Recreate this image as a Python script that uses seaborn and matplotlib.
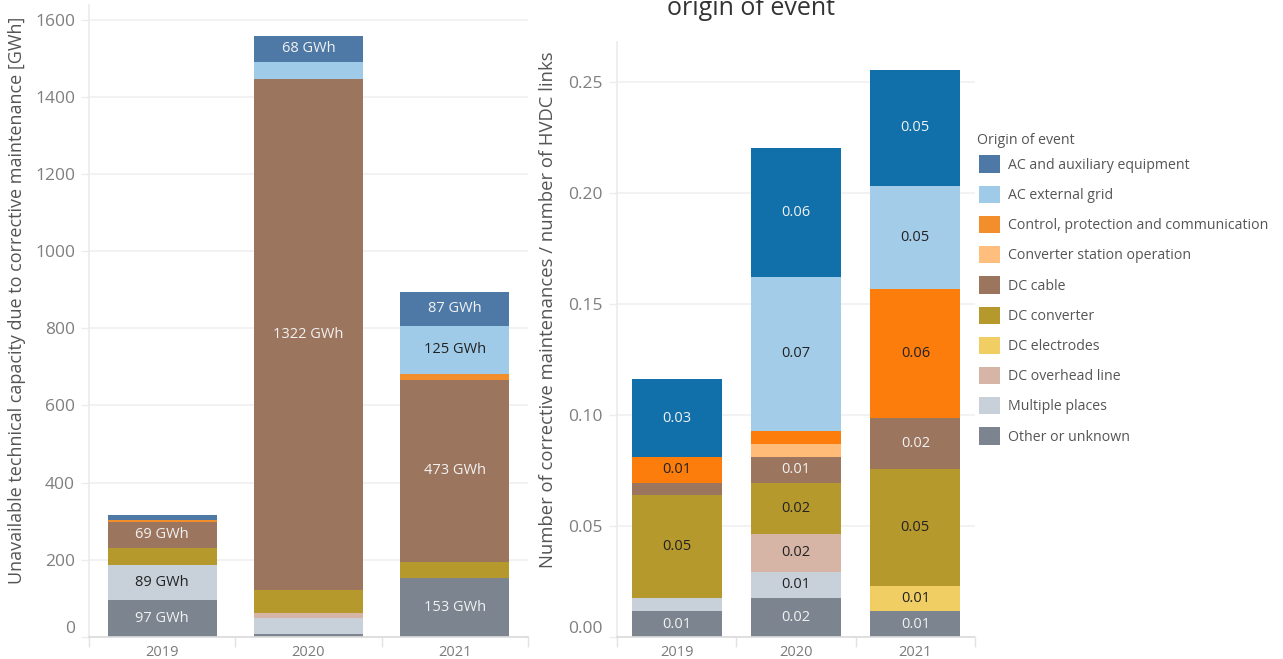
import numpy as np
import pandas as pd
import matplotlib
matplotlib.use("Agg")
import matplotlib.pyplot as plt
from matplotlib.patches import Patch
from matplotlib.ticker import FixedLocator, FuncFormatter
import seaborn as sns

# ---------------- data ----------------
years = [2019, 2020, 2021]
origins = ["AC and auxiliary equipment", "AC external grid",
           "Control, protection and communication", "Converter station operation",
           "DC cable", "DC converter", "DC electrodes", "DC overhead line",
           "Multiple places", "Other or unknown"]

# Left chart: unavailable technical capacity [GWh]
gwh_ac_aux = [15, 68, 87]
gwh_ac_ext = [0, 43, 125]
gwh_control = [3, 2, 15]
gwh_conv_op = [0, 0, 0]
gwh_dc_cable = [69, 1322, 473]
gwh_dc_converter = [44, 62, 40]
gwh_dc_electrodes = [0, 0, 1]
gwh_dc_overhead = [0, 13, 0]
gwh_multiple = [89, 39, 0]
gwh_other = [97, 9, 153]

# Right chart: corrective maintenances / number of HVDC links
r_ac_aux = [0.0349, 0.0581, 0.0522]
r_ac_ext = [0.0, 0.0694, 0.0464]
r_control = [0.0117, 0.0059, 0.0582]
r_conv_op = [0.0, 0.0058, 0.0]
r_dc_cable = [0.0054, 0.0117, 0.0229]
r_dc_converter = [0.0464, 0.0230, 0.0527]
r_dc_electrodes = [0.0, 0.0, 0.0113]
r_dc_overhead = [0.0, 0.0171, 0.0]
r_multiple = [0.0059, 0.0117, 0.0]
r_other = [0.0117, 0.0176, 0.0117]

left_series = [gwh_ac_aux, gwh_ac_ext, gwh_control, gwh_conv_op, gwh_dc_cable,
               gwh_dc_converter, gwh_dc_electrodes, gwh_dc_overhead, gwh_multiple, gwh_other]
right_series = [r_ac_aux, r_ac_ext, r_control, r_conv_op, r_dc_cable,
                r_dc_converter, r_dc_electrodes, r_dc_overhead, r_multiple, r_other]

left_ticks = [0, 200, 400, 600, 800, 1000, 1200, 1400, 1600]
right_ticks = [0.00, 0.05, 0.10, 0.15, 0.20, 0.25]

legend_colors = ["#4E79A7", "#A0CBE8", "#F28E2B", "#FFBE7D", "#9C755F",
                 "#B6992D", "#F1CE63", "#D7B5A6", "#C8D0D9", "#7B848F"]
right_colors = ["#1170AA", "#A3CCE9", "#FC7D0B", "#FFBC79", "#9C755F",
                "#B6992D", "#F1CE63", "#D7B5A6", "#C8D0D9", "#7B848F"]
light_text = {"AC and auxiliary equipment", "DC cable", "Other or unknown"}

# ---------------- style ----------------
sns.set_theme(style="white")
plt.rcParams["font.family"] = ["Open Sans", "DejaVu Sans"]

W, H = 1283, 659
fig = plt.figure(figsize=(W / 100, H / 100), dpi=100)


def make_df(series):
    rows = []
    for name, vals in zip(origins, series):
        for y, v in zip(years, vals):
            rows.append({"year": y, "origin": name, "value": v})
    return pd.DataFrame(rows)


def draw(ax, series, colors, shrink, ticks, ylim, fmt_tick, fmt_lab, thresh):
    df = make_df(series)
    sns.histplot(data=df, x="year", weights="value", hue="origin",
                 hue_order=origins, palette=dict(zip(origins, colors)),
                 multiple="stack", discrete=True, shrink=shrink,
                 alpha=1, linewidth=0, edgecolor="none", legend=False, ax=ax)
    # labels inside segments, stacked bottom (last origin) to top (first)
    for j, yr in enumerate(years):
        base = 0.0
        for name, vals in reversed(list(zip(origins, series))):
            v = vals[j]
            if v >= thresh:
                col = "#F2F2F2" if name in light_text else "#222222"
                ax.text(yr, base + v / 2, fmt_lab(v), ha="center", va="center",
                        fontsize=10.5, color=col)
            base += v
    ax.set_xlim(2018.5, 2021.5)
    ax.set_ylim(*ylim)
    ax.set_xlabel("")
    ax.set_xticks(years)
    ax.set_xticklabels([str(y) for y in years])
    ax.xaxis.set_minor_locator(FixedLocator([2018.5, 2019.5, 2020.5, 2021.5]))
    ax.tick_params(axis="x", which="major", length=0, labelsize=10.5,
                   labelcolor="#7a7a7a", pad=6)
    ax.tick_params(axis="x", which="minor", length=7, width=1, color="#e2e2e2",
                   direction="out", bottom=True)
    ax.set_yticks(ticks)
    ax.yaxis.set_major_formatter(FuncFormatter(fmt_tick))
    ax.tick_params(axis="y", length=6, width=1, color="#ececec", labelsize=12.5,
                   labelcolor="#7f7f7f", left=True, pad=4)
    ax.grid(axis="y", color="#f0f0f0", linewidth=1.2)
    ax.set_axisbelow(True)
    for s in ["top", "right"]:
        ax.spines[s].set_visible(False)
    ax.spines["left"].set_color("#ececec")
    ax.spines["bottom"].set_color("#dcdcdc")
    ax.spines["bottom"].set_linestyle((0, (2, 1)))
    # bottom tick label sits above the baseline, as in the original
    fig.canvas.draw()
    ax.get_yticklabels()[0].set_verticalalignment("bottom")


# left axes
ax1 = fig.add_axes([89 / W, 1 - 637 / H, (528 - 89) / W, (637 - 5) / H])
draw(ax1, left_series, legend_colors, 0.745, left_ticks, (0, 1638),
     lambda v, p: f"{v:.0f}", lambda v: f"{v:.0f} GWh", 65)
ax1.set_ylabel("Unavailable technical capacity due to corrective maintenance [GWh]",
               fontsize=13, color="#555555")
ax1.yaxis.set_label_coords(-0.1435, 0.533)

# right axes
ax2 = fig.add_axes([617 / W, 1 - 637 / H, (975 - 617) / W, (637 - 42) / H])
draw(ax2, right_series, right_colors, 0.754, right_ticks, (0, 0.268),
     lambda v, p: f"{v:.2f}", lambda v: f"{v:.2f}", 0.0100)
ax2.set_ylabel("Number of corrective maintenances / number of HVDC links",
               fontsize=13.3, color="#555555")
ax2.yaxis.set_label_coords(-0.1676, 0.55)

# clipped title (the original's title runs off the top edge)
fig.text(751 / W, 1 - 15 / H, "origin of event", ha="center", va="baseline",
         fontsize=18, color="#333333")

# legend
fig.text(977 / W, 1 - 140 / H, "Origin of event", ha="left", va="center",
         fontsize=10.2, color="#555555")
handles = [Patch(facecolor=c, edgecolor="none") for c in legend_colors]
leg = fig.legend(handles, origins, loc="upper left",
                 bbox_to_anchor=(979 / W, 1 - 155.5 / H), frameon=False,
                 fontsize=10.2, handlelength=1.5, handleheight=1.5,
                 labelspacing=0.91, handletextpad=0.55, borderpad=0,
                 borderaxespad=0)
for t in leg.get_texts():
    t.set_color("#555555")

fig.savefig("out.png", dpi=100)
